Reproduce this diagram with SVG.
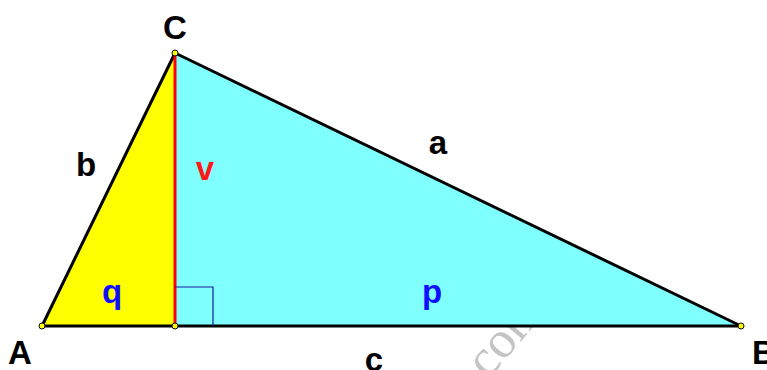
<svg xmlns="http://www.w3.org/2000/svg" width="767" height="370" viewBox="0 0 767 370">
<style>
.lbl{font-family:"Liberation Sans",Arial,sans-serif;font-weight:bold;font-size:33px;text-anchor:middle}
.k{fill:#000}.r{fill:#ff1a1a}.bl{fill:#1010ff}
.edge{stroke:#000;stroke-width:3;fill:none;stroke-linecap:round}
.pt{fill:#ffff00;stroke:#000;stroke-width:1}
</style>
<rect width="767" height="370" fill="#fff"/>
<text x="480" y="390" transform="rotate(-50 480 390)" font-family="Liberation Serif,serif" font-size="52" fill="#c4c4c4">.com</text>
<g id="regions">
<polygon points="42,326 175,53 175,326" fill="#ffff00"/>
<polygon points="175,53 741,326 175,326" fill="#80ffff"/>
</g>
<g id="connectors">
<line class="edge" x1="42" y1="326" x2="741" y2="326"/>
<line class="edge" x1="42" y1="326" x2="175" y2="53"/>
<line class="edge" x1="175" y1="53" x2="741" y2="326"/>
<line x1="175" y1="53" x2="175" y2="326" stroke="#ff0000" stroke-width="3"/>
<polyline points="175,287 213,287 213,326" fill="none" stroke="#1a1aa0" stroke-width="1.2"/>
</g>
<g id="node-A"><circle class="pt" cx="42" cy="326" r="3"/><text class="lbl k" x="20" y="364">A</text></g>
<g id="node-D"><circle class="pt" cx="175" cy="326" r="3"/></g>
<g id="node-B"><circle class="pt" cx="741" cy="326" r="3"/><text class="lbl k" x="764" y="364">B</text></g>
<g id="node-C"><circle class="pt" cx="175" cy="53" r="3"/><text class="lbl k" x="175" y="39">C</text></g>
<g id="labels">
<text class="lbl k" x="86" y="176">b</text>
<text class="lbl r" x="205" y="180">v</text>
<text class="lbl k" x="438" y="154">a</text>
<text class="lbl bl" x="112" y="303">q</text>
<text class="lbl bl" x="432" y="303">p</text>
<text class="lbl k" x="374" y="371">c</text>
</g>
</svg>
